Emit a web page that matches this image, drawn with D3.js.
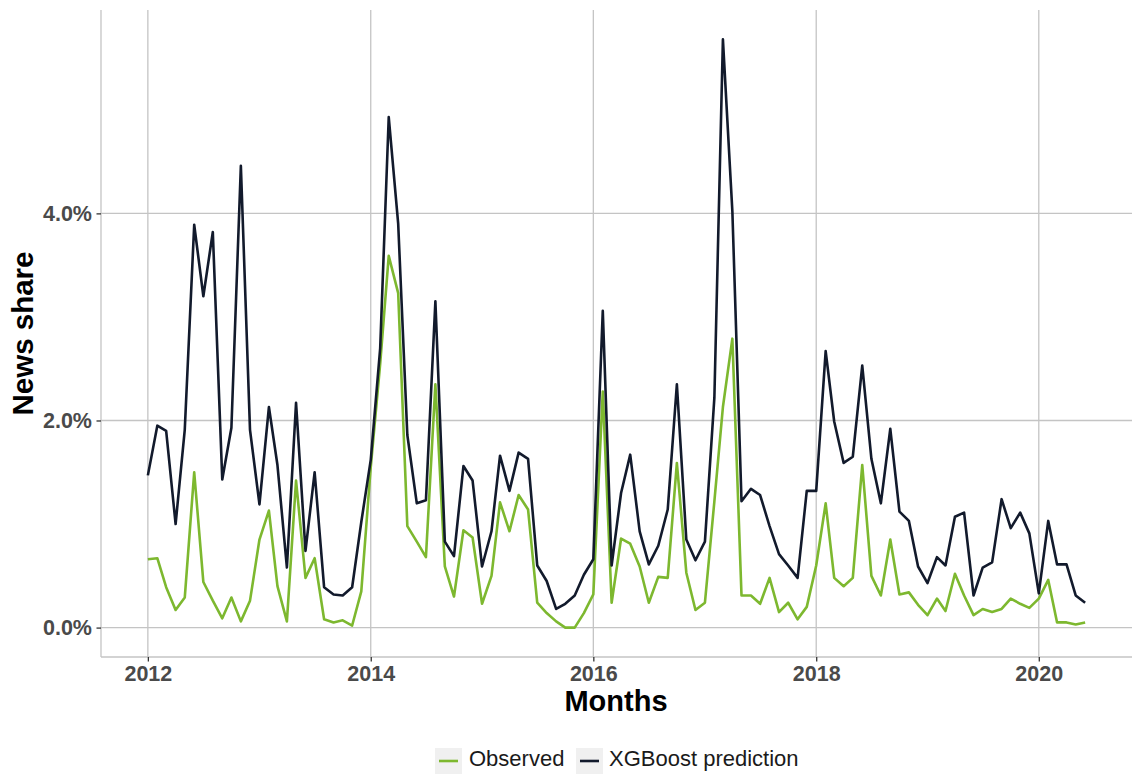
<!DOCTYPE html>
<html>
<head>
<meta charset="utf-8">
<script src="https://cdn.jsdelivr.net/npm/d3@7"></script>
<style>
  html, body { margin: 0; padding: 0; background: #ffffff; }
  svg { display: block; font-family: "Liberation Sans", Arial, sans-serif; }
</style>
</head>
<body>
<svg id="chart" width="1132" height="774"></svg>
<script>
// Monthly news share (%), Jan 2012 – Jun 2020
const startMonth = "2012-01";
const observed = [
  0.66, 0.67, 0.39, 0.17, 0.29, 1.50, 0.44, 0.26, 0.09, 0.29, 0.06, 0.26,
  0.85, 1.13, 0.40, 0.06, 1.42, 0.48, 0.67, 0.08, 0.05, 0.07, 0.02, 0.35,
  1.55, 2.55, 3.59, 3.23, 0.98, 0.83, 0.68, 2.35, 0.59, 0.30, 0.94, 0.87,
  0.23, 0.50, 1.21, 0.93, 1.28, 1.14, 0.24, 0.14, 0.06, 0.00, 0.00, 0.14,
  0.32, 2.28, 0.24, 0.86, 0.81, 0.59, 0.24, 0.49, 0.48, 1.59, 0.53, 0.17,
  0.24, 1.22, 2.13, 2.79, 0.31, 0.31, 0.23, 0.48, 0.15, 0.24, 0.08, 0.20,
  0.60, 1.20, 0.48, 0.40, 0.48, 1.57, 0.50, 0.31, 0.85, 0.32, 0.34, 0.22,
  0.12, 0.28, 0.16, 0.52, 0.31, 0.12, 0.18, 0.15, 0.18, 0.28, 0.23, 0.19,
  0.28, 0.46, 0.05, 0.05, 0.03, 0.05
];
const predicted = [
  1.47, 1.95, 1.90, 1.00, 1.91, 3.89, 3.20, 3.82, 1.43, 1.93, 4.46, 1.91,
  1.19, 2.13, 1.57, 0.58, 2.17, 0.74, 1.50, 0.39, 0.32, 0.31, 0.39, 1.02,
  1.62, 2.70, 4.93, 3.90, 1.86, 1.20, 1.23, 3.15, 0.83, 0.69, 1.56, 1.42,
  0.59, 0.93, 1.66, 1.32, 1.69, 1.63, 0.60, 0.45, 0.18, 0.23, 0.31, 0.51,
  0.66, 3.06, 0.60, 1.30, 1.67, 0.93, 0.61, 0.79, 1.14, 2.35, 0.85, 0.65,
  0.83, 2.22, 5.68, 4.02, 1.22, 1.34, 1.28, 0.98, 0.71, 0.60, 0.48, 1.32,
  1.32, 2.67, 1.99, 1.59, 1.65, 2.53, 1.63, 1.20, 1.92, 1.12, 1.03, 0.59,
  0.43, 0.68, 0.60, 1.07, 1.11, 0.31, 0.58, 0.63, 1.24, 0.96, 1.11, 0.91,
  0.33, 1.03, 0.61, 0.61, 0.31, 0.24
];
const seriesNames = ["Observed", "XGBoost prediction"];
const seriesColors = ["#7db82f", "#121a2c"];
const yTickValues = [0, 2, 4];
const xTickYears = [2012, 2014, 2016, 2018, 2020];

const parseMonth = d3.timeParse("%Y-%m");
const months = d3.timeMonth.range(parseMonth(startMonth),
  d3.timeMonth.offset(parseMonth(startMonth), observed.length));

const series = [observed, predicted].map((vals, k) => ({
  name: seriesNames[k],
  color: seriesColors[k],
  points: vals.map((v, i) => ({ date: months[i], value: v }))
}));

const svg = d3.select("#chart");
const panel = { left: 101, right: 1132, top: 10, bottom: 657 };

// ggplot-style 5% expansion of the data ranges
const tExt = d3.extent(months);
const tPad = (tExt[1] - tExt[0]) * 0.05;
const x = d3.scaleTime()
  .domain([new Date(+tExt[0] - tPad), new Date(+tExt[1] + tPad)])
  .range([panel.left, panel.right]);

const vMax = d3.max([...observed, ...predicted]);
const vMin = 0;
const vPad = (vMax - vMin) * 0.05;
const y = d3.scaleLinear()
  .domain([vMin - vPad, vMax + vPad])
  .range([panel.bottom, panel.top]);

const gridColor = "#c4c4c4";
const tickColor = "#333333";
const tickDates = xTickYears.map(yr => new Date(yr, 0, 1));

// grid lines
const grid = svg.append("g");
grid.selectAll("line.h").data(yTickValues).join("line")
  .attr("x1", panel.left).attr("x2", panel.right)
  .attr("y1", d => y(d)).attr("y2", d => y(d))
  .attr("stroke", gridColor).attr("stroke-width", 1.3);
grid.selectAll("line.v").data(tickDates).join("line")
  .attr("y1", panel.top).attr("y2", panel.bottom)
  .attr("x1", d => x(d)).attr("x2", d => x(d))
  .attr("stroke", gridColor).attr("stroke-width", 1.3);

// axes
const yAxis = svg.append("g")
  .attr("transform", `translate(${panel.left},0)`)
  .call(d3.axisLeft(y).tickValues(yTickValues).tickSize(4.5).tickPadding(4.5)
    .tickFormat(d => d3.format(".1f")(d) + "%"));
const xAxis = svg.append("g")
  .attr("transform", `translate(0,${panel.bottom})`)
  .call(d3.axisBottom(x).tickValues(tickDates).tickSize(4.5).tickPadding(4.5)
    .tickFormat(d3.timeFormat("%Y")));

[yAxis, xAxis].forEach(g => {
  g.select(".domain").attr("stroke", gridColor).attr("stroke-width", 1.3);
  g.selectAll(".tick line").attr("stroke", tickColor).attr("stroke-width", 1.3);
  g.selectAll(".tick text")
    .attr("fill", "#4a4a4a")
    .style("font-size", "21.5px")
    .style("font-weight", "bold")
    .style("font-family", "'Liberation Sans', Arial, sans-serif");
});
yAxis.select(".domain").attr("d", `M0,${panel.top}V${panel.bottom}`);
xAxis.select(".domain").attr("d", `M${panel.left},0H${panel.right}`);

// series lines
const line = d3.line().x(d => x(d.date)).y(d => y(d.value));
svg.append("g").selectAll("path").data(series).join("path")
  .attr("d", d => line(d.points))
  .attr("fill", "none")
  .attr("stroke", d => d.color)
  .attr("stroke-width", 2.6)
  .attr("stroke-linejoin", "round");

// axis titles
svg.append("text")
  .attr("x", 616)
  .attr("y", 711)
  .attr("text-anchor", "middle")
  .style("font-size", "29px").style("font-weight", "bold")
  .attr("fill", "#000")
  .text("Months");
svg.append("text")
  .attr("transform", `translate(33,${(panel.top + panel.bottom) / 2}) rotate(-90)`)
  .attr("text-anchor", "middle")
  .style("font-size", "29.5px").style("font-weight", "bold")
  .attr("fill", "#000")
  .text("News share");

// legend
const legend = svg.append("g");
const keyW = 27, keyH = 26, keyY = 748;
const legendItems = [
  { key: 435, text: 469 },
  { key: 576, text: 609 }
];
series.forEach((s, k) => {
  const it = legendItems[k];
  legend.append("rect")
    .attr("x", it.key).attr("y", keyY).attr("width", keyW).attr("height", keyH)
    .attr("fill", "#f0f0f0");
  legend.append("line")
    .attr("x1", it.key + 4).attr("x2", it.key + keyW - 4)
    .attr("y1", keyY + 13).attr("y2", keyY + 13)
    .attr("stroke", s.color).attr("stroke-width", 2.6);
  legend.append("text")
    .attr("x", it.text).attr("y", 766)
    .style("font-size", "22px")
    .attr("fill", "#1a1a1a")
    .text(s.name);
});
</script>
</body>
</html>
